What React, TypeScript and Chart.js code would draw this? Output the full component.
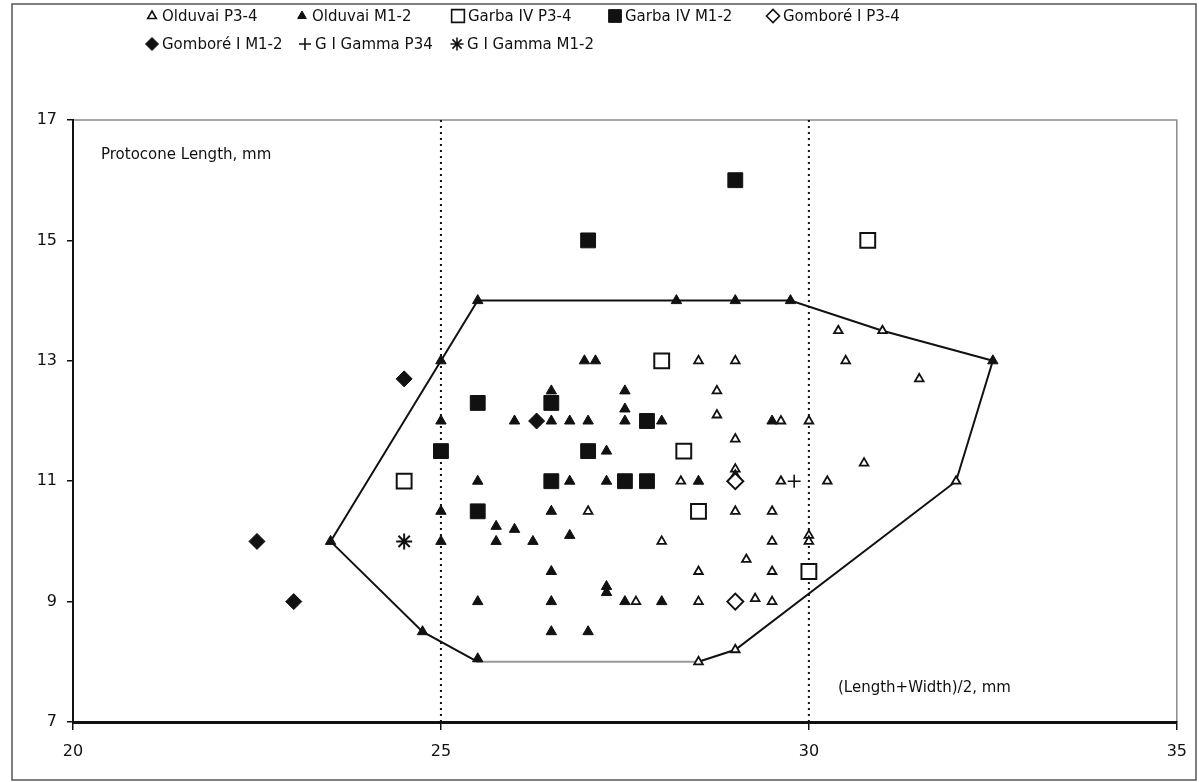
import React, { useEffect, useRef } from 'react';
import { Chart, registerables } from 'chart.js';
import { drawPoint } from 'chart.js/helpers';

Chart.register(...registerables);

// ---- data ----
const olduvaiP34: [number, number][] = [
  [28.5, 13], [29, 13], [28.75, 12.5], [28.75, 12.1], [29.62, 12], [30, 12], [29, 11.7],
  [28.26, 11], [29, 11.2], [29, 11.1], [29.62, 11], [30.25, 11], [27, 10.5], [29, 10.5],
  [29.5, 10.5], [28, 10], [29.5, 10], [30, 10.1], [30, 10], [29.15, 9.7], [28.5, 9.5],
  [29.5, 9.5], [27.65, 9], [28.5, 9], [29.27, 9.05], [29.5, 9], [28.5, 8], [29, 8.2],
  [30.4, 13.5], [31, 13.5], [30.5, 13], [31.5, 12.7], [30.75, 11.3], [32, 11],
];
const olduvaiM12: [number, number][] = [
  [25.5, 14], [28.2, 14], [29, 14], [29.75, 14], [32.5, 13], [25, 13],
  [26.95, 13], [27.1, 13], [26.5, 12.5], [27.5, 12.5], [27.5, 12.2],
  [25, 12], [26, 12], [26.5, 12], [26.75, 12], [27, 12], [27.5, 12], [28, 12], [29.5, 12],
  [27.25, 11.5], [25.5, 11], [26.75, 11], [27.25, 11], [28.5, 11],
  [25, 10.5], [26.5, 10.5], [25.75, 10.25], [26, 10.2], [26.75, 10.1], [25, 10], [25.75, 10],
  [26.25, 10], [23.5, 10], [27.25, 9.25], [27.25, 9.15], [26.5, 9.5], [25.5, 9], [26.5, 9],
  [27.5, 9], [28, 9], [24.75, 8.5], [26.5, 8.5], [27, 8.5], [25.5, 8.05],
];
const garbaP34: [number, number][] = [
  [24.5, 11], [28, 13], [28.3, 11.5], [28.5, 10.5], [30, 9.5], [30.8, 15],
];
const garbaM12: [number, number][] = [
  [25, 11.5], [25.5, 12.3], [25.5, 10.5], [26.5, 12.3], [27, 11.5], [27.8, 12],
  [26.5, 11], [27.5, 11], [27.8, 11], [27, 15], [29, 16],
];
const gomboreP34: [number, number][] = [[29, 11], [29, 9]];
const gomboreM12: [number, number][] = [[24.5, 12.7], [26.3, 12], [22.5, 10], [23, 9]];
const gammaP34: [number, number][] = [[29.8, 11]];
const gammaM12: [number, number][] = [[24.5, 10]];

const hull: [number, number][] = [
  [23.5, 10], [25.5, 14], [28.2, 14], [29, 14], [29.75, 14], [31, 13.5], [32.5, 13],
  [32, 11], [29, 8.2], [28.5, 8], [25.5, 8], [24.75, 8.5], [23.5, 10],
];
const refLinesX = [25, 30];

const xTicks = [20, 25, 30, 35];
const yTicks = [7, 9, 11, 13, 15, 17];

const seriesNames = [
  'Olduvai P3-4', 'Olduvai M1-2', 'Garba IV P3-4', 'Garba IV M1-2',
  'Gomboré I P3-4', 'Gomboré I M1-2', 'G I Gamma P34', 'G I Gamma M1-2',
];

const yLabel = 'Protocone Length, mm';
const xLabel = '(Length+Width)/2, mm';

const FONT = '"DejaVu Sans", sans-serif';
const INK = '#111111';

const toPts = (a: [number, number][]) => a.map(([x, y]) => ({ x, y }));

export default function App() {
  const ref = useRef<HTMLCanvasElement>(null);

  useEffect(() => {
    if (!ref.current) return;

    const marker = (style: string, radius: number, filled: boolean, bw: number, legendRadius: number) => ({
      pointStyle: style,
      pointRadius: radius,
      pointHoverRadius: radius,
      pointBackgroundColor: filled ? INK : '#ffffff',
      pointBorderColor: INK,
      pointBorderWidth: bw,
      showLine: false,
      legendRadius,
    });

    const seriesData = [olduvaiP34, olduvaiM12, garbaP34, garbaM12, gomboreP34, gomboreM12, gammaP34, gammaM12];
    const styles = [
      marker('triangle', 5, false, 1.8, 5),
      marker('triangle', 6, true, 1, 5),
      marker('rect', 10.5, false, 2, 9),
      marker('rect', 10.5, true, 1, 9),
      marker('rectRot', 8, false, 2, 6.5),
      marker('rectRot', 8, true, 1, 6.5),
      marker('cross', 6.5, false, 1.6, 6),
      marker('star', 8, false, 2, 6.5),
    ];

    const datasets: any[] = seriesData.map((d, i) => ({
      label: seriesNames[i],
      data: toPts(d),
      order: 8 - i,
      ...styles[i],
    }));

    datasets.push({
      label: 'hull',
      data: toPts(hull),
      showLine: true,
      pointRadius: 0,
      borderColor: INK,
      borderWidth: 2,
      order: 20,
      segment: {
        borderColor: (ctx: any) => (ctx.p0DataIndex === 9 ? '#9a9a9a' : INK),
      },
    });
    refLinesX.forEach((v) => {
      datasets.push({
        label: 'ref',
        data: [{ x: v, y: 7 }, { x: v, y: 17 }],
        showLine: true,
        pointRadius: 0,
        borderColor: INK,
        borderWidth: 2,
        borderDash: [2, 4],
        order: 21,
      });
    });

    const decor = {
      id: 'decor',
      beforeDraw(chart: any) {
        const { ctx, chartArea } = chart;
        ctx.save();
        ctx.fillStyle = '#ffffff';
        ctx.fillRect(0, 0, chart.width, chart.height);
        ctx.strokeStyle = '#555';
        ctx.lineWidth = 1.5;
        ctx.strokeRect(12, 4, chart.width - 15, chart.height - 6);
        ctx.strokeStyle = '#8a8a8a';
        ctx.lineWidth = 1.5;
        ctx.beginPath();
        ctx.moveTo(chartArea.left, chartArea.top);
        ctx.lineTo(chartArea.right, chartArea.top);
        ctx.lineTo(chartArea.right, chartArea.bottom);
        ctx.stroke();
        ctx.restore();
      },
      afterDraw(chart: any) {
        const { ctx, chartArea } = chart;
        ctx.save();
        ctx.fillStyle = INK;
        ctx.font = `15px ${FONT}`;
        ctx.textBaseline = 'middle';
        ctx.textAlign = 'left';
        ctx.fillText(yLabel, chartArea.left + 28, chartArea.top + 35);
        ctx.fillText(xLabel, chartArea.left + 765, chartArea.bottom - 34);

        const row1 = [152, 302, 458, 615, 773];
        const row2 = [152, 305, 457];
        const slots = [
          ...row1.map((x) => ({ x, y: 16 })),
          ...row2.map((x) => ({ x, y: 44 })),
        ];
        ctx.font = `15px ${FONT}`;
        chart.data.datasets.slice(0, 8).forEach((ds: any, i: number) => {
          const s = slots[i];
          ctx.fillStyle = ds.pointBackgroundColor;
          ctx.strokeStyle = ds.pointBorderColor;
          ctx.lineWidth = Math.min(ds.pointBorderWidth, 1.6);
          drawPoint(ctx, { pointStyle: ds.pointStyle, radius: ds.legendRadius, rotation: 0, borderWidth: ctx.lineWidth } as any, s.x, s.y);
          ctx.fillStyle = INK;
          ctx.fillText(ds.label, s.x + 10, s.y + 1);
        });
        ctx.restore();
      },
    };

    const chart = new Chart(ref.current, {
      type: 'scatter',
      data: { datasets },
      options: {
        animation: false,
        responsive: false,
        maintainAspectRatio: false,
        layout: { padding: { top: 120, right: 19, left: 0, bottom: 0 } },
        plugins: { legend: { display: false }, tooltip: { enabled: false } },
        scales: {
          x: {
            type: 'linear',
            min: 20,
            max: 35,
            afterBuildTicks: (scale: any) => {
              scale.ticks = xTicks.map((v) => ({ value: v }));
            },
            afterFit: (scale: any) => {
              scale.height = 60;
            },
            ticks: { color: INK, font: { family: FONT, size: 16 }, padding: 12, maxRotation: 0 },
            grid: { drawOnChartArea: false, drawTicks: true, tickLength: 8, color: INK, lineWidth: 1.5 },
            border: { display: true, color: INK, width: 3 },
          },
          y: {
            type: 'linear',
            min: 7,
            max: 17,
            afterBuildTicks: (scale: any) => {
              scale.ticks = yTicks.map((v) => ({ value: v }));
            },
            afterFit: (scale: any) => {
              scale.width = 73;
            },
            ticks: { color: INK, font: { family: FONT, size: 16 }, padding: 10 },
            grid: { drawOnChartArea: false, drawTicks: true, tickLength: 6, color: INK, lineWidth: 1.5 },
            border: { display: true, color: INK, width: 2 },
          },
        },
      },
      plugins: [decor],
    } as any);

    return () => chart.destroy();
  }, []);

  return (
    <div style={{ position: 'absolute', left: 0, top: 0, width: 1199, height: 782 }}>
      <canvas ref={ref} width={1199} height={782} style={{ display: 'block', width: 1199, height: 782 }} />
    </div>
  );
}
